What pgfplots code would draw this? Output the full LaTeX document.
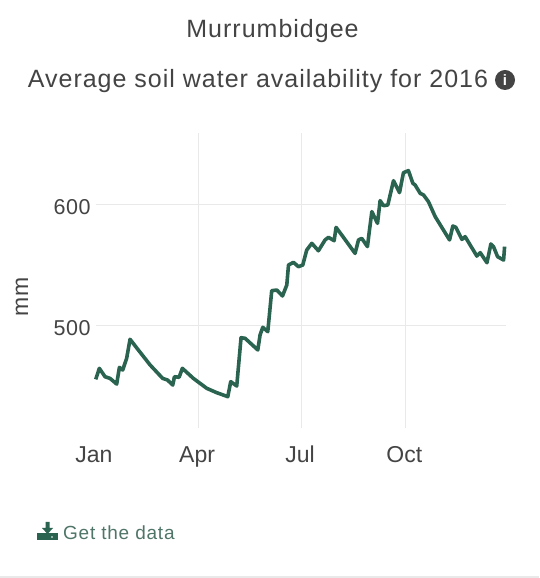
\documentclass[border=0pt]{standalone}
\usepackage{fontspec}
\setmainfont{Liberation Sans}
\newfontfamily\lsf{Liberation Sans}[LetterSpace=4]
\newfontfamily\lsg{Liberation Sans}[LetterSpace=2]
\usepackage{pgfplots}
\pgfplotsset{compat=1.18}
\usepackage{pgfplotstable}
\pgfplotstableread{
day mm
0.2 455.9
3.4 465.0
8.4 458.1
12.8 456.7
15.0 455.0
18.7 452.0
21.1 465.8
24.0 463.6
27.5 473.3
30.5 489.0
37.8 480.2
48.2 467.8
59.3 456.7
63.5 455.4
68.2 451.2
69.7 458.1
73.8 457.6
76.7 465.0
86.4 456.7
98.2 448.5
107.0 444.9
116.8 441.6
119.4 454.0
124.7 450.4
128.5 490.3
132.1 489.8
143.3 480.2
145.3 492.6
147.7 498.9
152.1 495.3
155.6 529.2
160.1 529.7
165.1 524.8
168.9 533.9
170.4 550.4
174.8 552.6
179.2 549.0
183.0 550.4
186.5 562.8
191.0 568.3
196.8 562.2
202.7 571.1
205.7 573.3
210.7 570.5
212.4 581.5
217.4 575.2
229.2 560.0
232.2 571.1
235.1 572.4
240.1 565.6
241.9 579.3
244.0 594.5
249.0 584.8
251.3 603.6
254.3 599.4
258.1 600.0
263.1 620.1
268.4 610.2
271.9 626.7
276.3 628.4
280.2 617.9
282.2 616.5
286.7 609.6
289.6 608.3
294.0 602.7
299.9 590.4
312.6 571.1
315.5 582.6
318.2 581.5
323.5 571.6
326.4 573.8
336.7 557.8
339.7 560.6
345.6 552.3
349.1 567.8
351.4 565.6
355.0 557.3
360.3 554.5
361.2 565.6
}\soil
\definecolor{linegreen}{HTML}{2A6350}
\definecolor{gridc}{HTML}{E9E9E9}
\definecolor{txt}{HTML}{444444}
\definecolor{linkc}{HTML}{4F7568}
\begin{document}
\begin{tikzpicture}[x=1pt,y=1pt]
\path[use as bounding box] (0,0) rectangle (539,578);
\fill[white] (0,0) rectangle (539,578);
\begin{axis}[
  at={(95.5pt,150pt)},anchor=south west,
  scale only axis,width=410pt,height=295pt,
  xmin=0,xmax=362,ymin=415.7,ymax=659.5,
  axis line style={draw=none},
  major tick length=0pt,
  grid=major,grid style={gridc,line width=1pt},
  xtick={91,182,274},xticklabels={Apr,Jul,Oct},
  extra x ticks={0},extra x tick labels={Jan},
  extra x tick style={grid=none},
  ytick={500,600},
  /pgf/number format/assume math mode=true,
  xticklabel style={font=\fontsize{23}{26}\selectfont,text=txt,anchor=base,yshift=-35pt,xshift=-1.5pt},
  yticklabel style={font=\lsg\fontsize{21.5}{24}\selectfont,text=txt,xshift=-1.5pt,yshift=-2.5pt},
  clip=false,
]
\addplot[linegreen,line width=3.6pt,line join=round] table[x=day,y=mm] {\soil};
\end{axis}
\node[text=txt,anchor=base,inner sep=0pt,font=\lsf\fontsize{25}{28}\selectfont] at (272.5,540) {Murrumbidgee};
\node[text=txt,anchor=base,inner sep=0pt,font=\lsf\fontsize{25}{28}\selectfont] at (258,490.5) {Average soil water availability for 2016};
\fill[txt] (505,498) circle (10);
\node[text=white,font=\fontsize{15}{15}\selectfont\bfseries] at (505,498) {i};
\node[text=txt,rotate=90,font=\fontsize{23}{26}\selectfont] at (22,281) {mm};
% download icon
\fill[linegreen] (37,38) rectangle (58,45);
\fill[white] (52,41) circle (0.9);
\fill[linegreen] (45.5,56) -- (49.5,56) -- (49.5,50) -- (53,50) -- (47.5,44) -- (42,50) -- (45.5,50) -- cycle;
\node[text=linkc,anchor=base west,inner sep=0pt,font=\lsf\fontsize{19}{22}\selectfont] at (63,38) {Get the data};
\fill[gridc] (0,0) rectangle (539,2);
\end{tikzpicture}
\end{document}
